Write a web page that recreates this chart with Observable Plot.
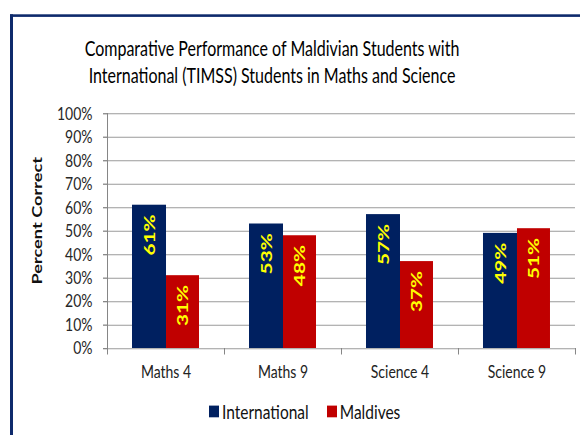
<!DOCTYPE html>
<html><head><meta charset="utf-8">
<script src="https://cdn.jsdelivr.net/npm/d3@7"></script>
<script src="https://cdn.jsdelivr.net/npm/@observablehq/plot@0.6"></script>
<style>
html,body{margin:0;padding:0;background:#fff;}
body{width:580px;height:435px;overflow:hidden;position:relative;}
#stage{position:absolute;left:0;top:0;width:580px;height:334.6px;transform:scaleY(1.3);transform-origin:0 0;font-family:Lato,"Open Sans",sans-serif;}
#frame{position:absolute;left:9.5px;top:10.8px;right:-20px;bottom:-40px;border-left:3px solid #0e2a6c;border-top:2.3px solid #0e2a6c;}
#title{position:absolute;left:0;top:25.5px;width:544px;text-align:center;font-size:16px;line-height:21px;color:#000;}
#chart{position:absolute;left:0;top:70px;}
#legend{position:absolute;left:209px;top:306px;display:flex;align-items:center;font-size:15.5px;color:#111;line-height:20px;}
#legend .sw{display:inline-block;width:10px;height:9px;margin-right:3px;}
#legend .item{display:flex;align-items:center;margin-right:18px;}
</style></head>
<body>
<div id="stage">
  <div id="frame"></div>
  <div id="title">Comparative Performance of Maldivian Students with<br>International (TIMSS) Students in Maths and Science</div>
  <div id="chart"></div>
  <div id="legend"></div>
</div>
<script>
const categories = ["Maths 4", "Maths 9", "Science 4", "Science 9"];
const seriesNames = ["International", "Maldives"];
const international = [61, 53, 57, 49];
const maldives = [31, 48, 37, 51];
const yTicks = [0, 10, 20, 30, 40, 50, 60, 70, 80, 90, 100];
const yLabel = "Percent Correct";
const colors = ["#002060", "#C00000"];

const intl = categories.map((c, i) => ({category: c, series: seriesNames[0], value: international[i]}));
const mald = categories.map((c, i) => ({category: c, series: seriesNames[1], value: maldives[i]}));

const half = 58.5;
const plot = Plot.plot({
  width: 580,
  height: 232.7,
  marginLeft: 107,
  marginRight: 5,
  marginTop: 17,
  marginBottom: 35,
  style: {fontFamily: "Lato, 'Open Sans', sans-serif", background: "transparent", overflow: "visible"},
  x: {type: "band", domain: categories, padding: 0, axis: null},
  y: {domain: [0, 100], axis: null},
  marks: [
    Plot.ruleY(yTicks, {stroke: "#9a9a9a", strokeWidth: 0.8}),
    Plot.barY(intl, {x: "category", y: "value", fill: colors[0], insetLeft: 25, insetRight: 58}),
    Plot.barY(mald, {x: "category", y: "value", fill: colors[1], insetLeft: 59, insetRight: 25}),
    Plot.ruleX([categories[0]], {x: d => d, dx: -half, y1: 0, y2: 100, stroke: "#868686"}),
    Plot.axisY({ticks: yTicks, tickSize: 4, tickPadding: 11, tickFormat: d => d + "%", fontSize: 14,
      stroke: "#868686", fill: "#262626", label: null}),
    Plot.text([yLabel], {frameAnchor: "left", text: d => d, rotate: -90, textAnchor: "middle", lineAnchor: "middle",
      dx: -70, dy: -8, fontSize: 14, fontWeight: "bold", fill: "#111"}),
    Plot.axisX({fill: "none", tickSize: 5, dx: -half, stroke: "#868686", label: null}),
    Plot.axisX([categories[3]], {fill: "none", tickSize: 5, dx: half, stroke: "#868686", label: null}),
    Plot.axisX({tickSize: 0, tickPadding: 13, fontSize: 14, fill: "#222", label: null}),
    Plot.text(intl, {x: "category", y: "value", text: d => d.value + "%", rotate: -90, textAnchor: "end",
      dx: -16.5, dy: 7, fill: "#FFFF00", fontWeight: "bold", fontSize: 16}),
    Plot.text(mald, {x: "category", y: "value", text: d => d.value + "%", rotate: -90, textAnchor: "end",
      dx: 16.5, dy: 7, fill: "#FFFF00", fontWeight: "bold", fontSize: 16})
  ]
});
document.getElementById("chart").appendChild(plot);

const legend = document.getElementById("legend");
seriesNames.forEach((s, i) => {
  const item = document.createElement("span");
  item.className = "item";
  const sw = document.createElement("span");
  sw.className = "sw";
  sw.style.background = colors[i];
  item.appendChild(sw);
  item.appendChild(document.createTextNode(s));
  legend.appendChild(item);
});
</script>
</body></html>
